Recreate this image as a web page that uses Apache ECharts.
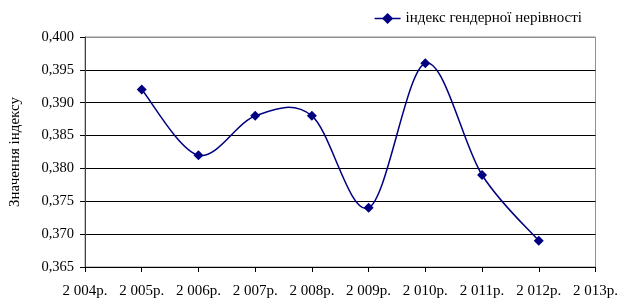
<!DOCTYPE html>
<html><head><meta charset="utf-8">
<script src="https://cdn.jsdelivr.net/npm/echarts@6/dist/echarts.min.js"></script>
<style>html,body{margin:0;padding:0;background:#fff}#c{width:621px;height:302px}</style>
</head><body><div id="c"></div>
<script>
const categories = ['2 004р.','2 005р.','2 006р.','2 007р.','2 008р.','2 009р.','2 010р.','2 011р.','2 012р.','2 013р.'];
const values = [null, 0.392, 0.382, 0.388, 0.388, 0.374, 0.396, 0.379, 0.369, null];
const seriesName = 'індекс гендерної нерівності';
const yTitle = 'Значення індексу';
const font = '"Liberation Serif", "Times New Roman", serif';
const navy = '#000080';

// Excel-style smoothed curve (Catmull-Rom -> Bezier, tension 1/6) through data points mapped by the axes
function renderCurve(params, api) {
  if (params.dataIndex !== firstIdx) return null;
  const pts = [];
  values.forEach((v, i) => { if (v != null) pts.push(api.coord([i, v])); });
  const n = pts.length;
  let d = 'M' + pts[0][0] + ' ' + pts[0][1];
  for (let i = 0; i < n - 1; i++) {
    const p0 = pts[Math.max(i - 1, 0)], p1 = pts[i], p2 = pts[i + 1], p3 = pts[Math.min(i + 2, n - 1)];
    const c1 = [p1[0] + (p2[0] - p0[0]) / 6, p1[1] + (p2[1] - p0[1]) / 6];
    const c2 = [p2[0] - (p3[0] - p1[0]) / 6, p2[1] - (p3[1] - p1[1]) / 6];
    d += ' C' + c1[0] + ' ' + c1[1] + ' ' + c2[0] + ' ' + c2[1] + ' ' + p2[0] + ' ' + p2[1];
  }
  return {type:'path', shape:{pathData:d}, style:{fill:null, stroke:navy, lineWidth:1.5}};
}
const firstIdx = values.findIndex(v => v != null);

const chart = echarts.init(document.getElementById('c'), null, {renderer:'canvas'});
chart.setOption({
  animation:false,
  backgroundColor:'#fff',
  grid:{left:84,right:24,top:37,bottom:35,show:true,borderColor:'#909090',borderWidth:1,backgroundColor:'transparent'},
  legend:{right:34,top:6,itemWidth:26,itemHeight:14,itemGap:4,
    textStyle:{fontFamily:font,fontSize:15,color:'#000'},
    lineStyle:{color:navy,width:1.5,opacity:1},
    data:[{name:seriesName}]},
  xAxis:{type:'category',data:categories,boundaryGap:false,
    axisLine:{lineStyle:{color:'#000',width:1}},
    axisTick:{show:true,alignWithLabel:true,length:5,lineStyle:{color:'#000'}},
    axisLabel:{fontFamily:font,fontSize:15,color:'#000',margin:17,interval:0},
    splitLine:{show:false}},
  yAxis:{type:'value',min:0.365,max:0.4,interval:0.005,
    name:yTitle,nameLocation:'middle',nameGap:62,
    nameTextStyle:{fontFamily:font,fontSize:15,color:'#000'},
    axisLine:{show:true,lineStyle:{color:'#404040',width:1}},
    axisTick:{show:true,length:5,lineStyle:{color:'#000'}},
    axisLabel:{fontFamily:font,fontSize:14.5,color:'#000',margin:11,
      formatter:v=>v.toFixed(3).replace('.',',')},
    splitLine:{show:true,lineStyle:{color:['#000','#000','#000','#000','#000','#000','#000','#909090'],width:1}}},
  series:[
    {name:'curve',type:'custom',renderItem:renderCurve,
      data:values.map((v,i)=>[i,v]),silent:true,z:2},
    {name:seriesName,type:'line',data:values,smooth:false,connectNulls:false,
      symbol:'diamond',symbolSize:10,showAllSymbol:true,
      lineStyle:{color:navy,width:1.5,opacity:0},
      itemStyle:{color:navy},z:3}
  ]
});
</script></body></html>
